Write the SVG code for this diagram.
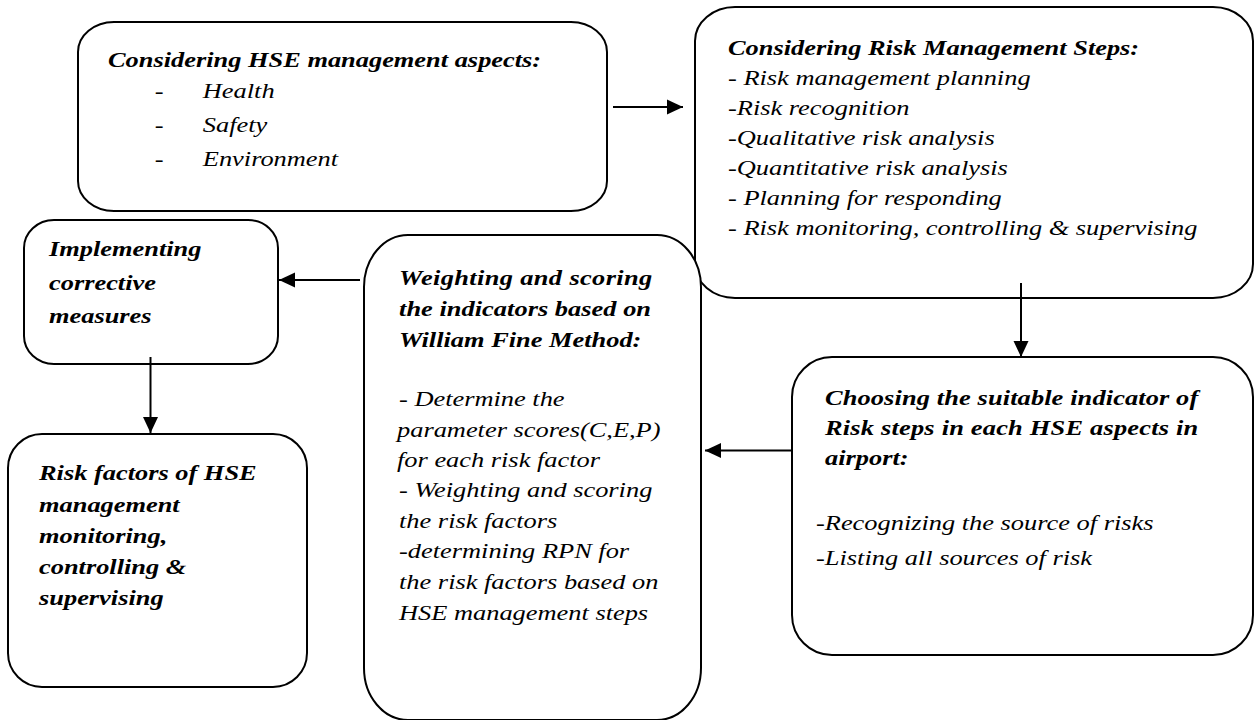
<svg xmlns="http://www.w3.org/2000/svg" width="1257" height="720" viewBox="0 0 1257 720">
<style>
  .box { fill: #ffffff; stroke: #000000; stroke-width: 2; }
  .t { font-family: "Liberation Serif", "Times New Roman", serif; font-size: 22px; font-style: italic; fill: #000000; }
  .b { font-weight: bold; }
  .conn { stroke: #000000; stroke-width: 2; fill: none; marker-end: url(#arrow); }
</style>
<defs>
  <marker id="arrow" markerUnits="userSpaceOnUse" markerWidth="16" markerHeight="16" viewBox="0 0 16 16" refX="16" refY="8" orient="auto">
    <path d="M0,0.5 L16,8 L0,15.5 Z" fill="#000000"/>
  </marker>
</defs>
<rect width="1257" height="720" fill="#ffffff"/>

<g id="node-hse-aspects">
  <rect class="box" x="78" y="22" width="529" height="189" rx="36" ry="30"/>
  <g transform="translate(108 0) scale(1.2 1)">
    <text class="t b" x="0" y="67">Considering HSE management aspects:</text>
    <text class="t" x="39" y="98">-</text>
    <text class="t" x="79" y="98">Health</text>
    <text class="t" x="39" y="132">-</text>
    <text class="t" x="79" y="132">Safety</text>
    <text class="t" x="39" y="166">-</text>
    <text class="t" x="79" y="166">Environment</text>
  </g>
</g>

<g id="node-risk-steps">
  <rect class="box" x="695" y="7" width="558" height="291" rx="40" ry="34"/>
  <g transform="translate(728 0) scale(1.2 1)">
    <text class="t b" x="0" y="55">Considering Risk Management Steps:</text>
    <text class="t" x="0" y="85">- Risk management planning</text>
    <text class="t" x="0" y="115">-Risk recognition</text>
    <text class="t" x="0" y="145">-Qualitative risk analysis</text>
    <text class="t" x="0" y="175">-Quantitative risk analysis</text>
    <text class="t" x="0" y="205">- Planning for responding</text>
    <text class="t" x="0" y="235">- Risk monitoring, controlling &amp; supervising</text>
  </g>
</g>

<g id="node-choosing">
  <rect class="box" x="792" y="357" width="461" height="298" rx="40" ry="40"/>
  <g transform="translate(816 0) scale(1.2 1)">
    <text class="t b" x="7.5" y="405" textLength="311" lengthAdjust="spacing">Choosing the suitable indicator of</text>
    <text class="t b" x="7.5" y="435" textLength="311" lengthAdjust="spacing">Risk steps in each HSE aspects in</text>
    <text class="t b" x="7.5" y="465">airport:</text>
    <text class="t" x="0" y="530">-Recognizing the source of risks</text>
    <text class="t" x="0" y="565">-Listing all sources of risk</text>
  </g>
</g>

<g id="node-weighting">
  <rect class="box" x="364" y="235" width="337" height="485" rx="44" ry="52"/>
  <g transform="translate(397 0) scale(1.2 1)">
    <text class="t b" x="1.7" y="285" textLength="211" lengthAdjust="spacing">Weighting and scoring</text>
    <text class="t b" x="1.7" y="316" textLength="210" lengthAdjust="spacing">the indicators based on</text>
    <text class="t b" x="1.7" y="347">William Fine Method:</text>
    <text class="t" x="1.7" y="406">- Determine the</text>
    <text class="t" x="0" y="437">parameter scores(C,E,P)</text>
    <text class="t" x="0" y="467">for each risk factor</text>
    <text class="t" x="1.7" y="497">- Weighting and scoring</text>
    <text class="t" x="1.7" y="528">the risk factors</text>
    <text class="t" x="1.7" y="558">-determining RPN for</text>
    <text class="t" x="1.7" y="589">the risk factors based on</text>
    <text class="t" x="1.7" y="620">HSE management steps</text>
  </g>
</g>

<g id="node-implementing">
  <rect class="box" x="24" y="220" width="254" height="144" rx="30" ry="28"/>
  <g transform="translate(49 0) scale(1.2 1)">
    <text class="t b" x="0" y="256">Implementing</text>
    <text class="t b" x="0" y="290">corrective</text>
    <text class="t b" x="0" y="323">measures</text>
  </g>
</g>

<g id="node-risk-factors">
  <rect class="box" x="8" y="434" width="299" height="253" rx="34" ry="34"/>
  <g transform="translate(39 0) scale(1.2 1)">
    <text class="t b" x="0" y="480">Risk factors of HSE</text>
    <text class="t b" x="0" y="512">management</text>
    <text class="t b" x="0" y="543">monitoring,</text>
    <text class="t b" x="0" y="574">controlling &amp;</text>
    <text class="t b" x="0" y="605">supervising</text>
  </g>
</g>

<g id="connectors">
  <line class="conn" x1="613" y1="107" x2="683" y2="107"/>
  <line class="conn" x1="1021" y1="283" x2="1021" y2="357"/>
  <line class="conn" x1="792" y1="450.5" x2="705" y2="450.5"/>
  <line class="conn" x1="360" y1="280" x2="279" y2="280"/>
  <line class="conn" x1="150.5" y1="357" x2="150.5" y2="433"/>
</g>
</svg>
